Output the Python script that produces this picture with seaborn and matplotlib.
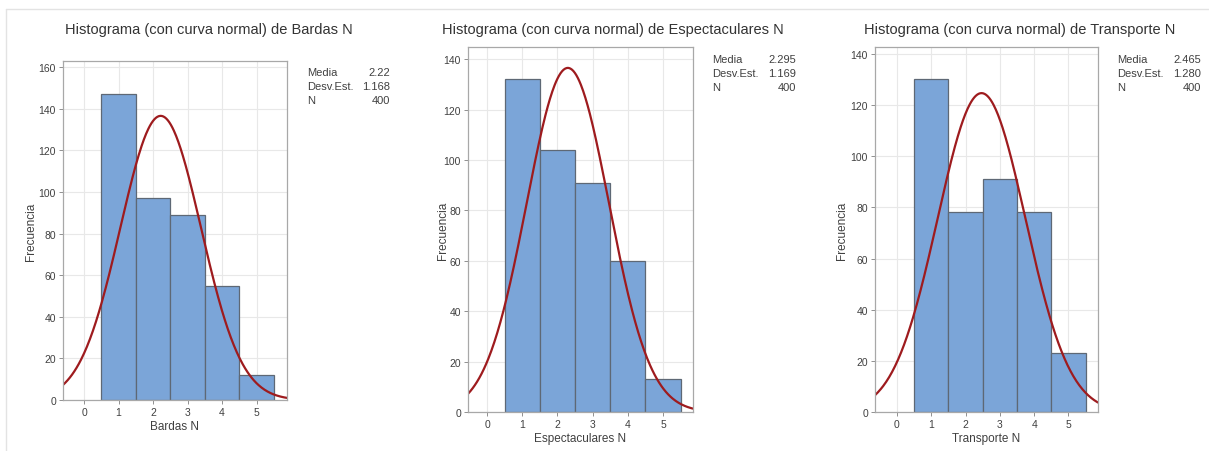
import numpy as np
import pandas as pd
import matplotlib.pyplot as plt
import seaborn as sns
from matplotlib.lines import Line2D

# Datos (Minitab)
valores = [1, 2, 3, 4, 5]
nombres = ['Bardas N', 'Espectaculares N', 'Transporte N']
frec_bardas = [147, 97, 89, 55, 12]
frec_espect = [132, 104, 91, 60, 13]
frec_transp = [130, 78, 91, 78, 23]
medias = [2.22, 2.295, 2.465]
desv = [1.168, 1.169, 1.280]
medias_txt = ['2.22', '2.295', '2.465']
desv_txt = ['1.168', '1.169', '1.280']
n_total = 400
frecuencias = [frec_bardas, frec_espect, frec_transp]

sns.set_theme(style='white')
plt.rcParams['font.family'] = ['Liberation Sans', 'DejaVu Sans']

W, H = 1209, 452
fig = plt.figure(figsize=(W / 100, H / 100), dpi=100)

def px(x, y):
    return x / W, 1 - y / H

# posiciones de los ejes en pixeles (izq, arriba, der, abajo)
cajas = [(63, 62, 287, 401), (468, 48, 693, 413), (875, 48, 1098, 413)]
ylims = [163, 144.8, 142.7]
yticks = [np.arange(0, 161, 20), np.arange(0, 141, 20), np.arange(0, 141, 20)]
xlims = [(-0.61, 5.88), (-0.54, 5.85), (-0.64, 5.86)]
titulos_x = [209, 613, 1020]
ylabel_x = [37, 449, 848]
stats_x = [(307, 390), (712, 796), (1117, 1201)]
stats_y = [(73, 87, 101), (60, 74, 88), (60, 74, 88)]

for i in range(3):
    l, t, r, b = cajas[i]
    ax = fig.add_axes([l / W, 1 - b / H, (r - l) / W, (b - t) / H])
    df = pd.DataFrame({'x': valores, 'f': frecuencias[i]})
    ax.set_axisbelow(True)
    ax.grid(True, color='#e8e8e8', lw=0.8)
    sns.histplot(data=df, x='x', weights='f', discrete=True, ax=ax,
                 color='#7BA5D8', alpha=1, edgecolor='#5e6875', linewidth=0.9)
    xs = np.linspace(xlims[i][0], xlims[i][1], 300)
    ys = n_total * np.exp(-0.5 * ((xs - medias[i]) / desv[i]) ** 2) / (desv[i] * np.sqrt(2 * np.pi))
    sns.lineplot(x=xs, y=ys, ax=ax, color='#9E1B1E', lw=1.6)
    ax.set_xlim(*xlims[i])
    ax.set_ylim(0, ylims[i])
    ax.set_xticks(range(0, 6))
    ax.set_yticks(yticks[i])
    ax.tick_params(axis='both', labelsize=7.5, colors='#404040', length=3,
                   width=0.7, pad=2, bottom=True, left=True, direction='out')
    ax.tick_params(axis='both', color='#909090')
    for s in ax.spines.values():
        s.set_color('#a8a8a8')
        s.set_linewidth(0.9)
    ax.set_xlabel(nombres[i], fontsize=8.5, color='#404040')
    ax.set_ylabel('Frecuencia', fontsize=8.5, color='#404040')
    alto = b - t
    ax.xaxis.set_label_coords(0.5, -20 / alto)
    ax.yaxis.set_label_coords((ylabel_x[i] - l) / (r - l), 0.5)

    tx, ty = px(titulos_x[i], 30)
    fig.text(tx, ty, 'Histograma (con curva normal) de ' + nombres[i],
             ha='center', va='center', fontsize=10.5, color='#333333')

    sx0, sx1 = stats_x[i]
    filas = [('Media', medias_txt[i]), ('Desv.Est.', desv_txt[i]), ('N', str(n_total))]
    for (lab, val), yy in zip(filas, stats_y[i]):
        fig.text(*px(sx0, yy), lab, ha='left', va='center', fontsize=8, color='#404040')
        fig.text(*px(sx1, yy), val, ha='right', va='center', fontsize=8, color='#404040')

# marco exterior claro
fig.add_artist(Line2D([6 / W, 1], [1 - 10 / H, 1 - 10 / H], color='#e3e3e3', lw=1))
fig.add_artist(Line2D([6 / W, 6 / W], [0, 1 - 10 / H], color='#e3e3e3', lw=1))

fig.savefig('out.png', dpi=100)
